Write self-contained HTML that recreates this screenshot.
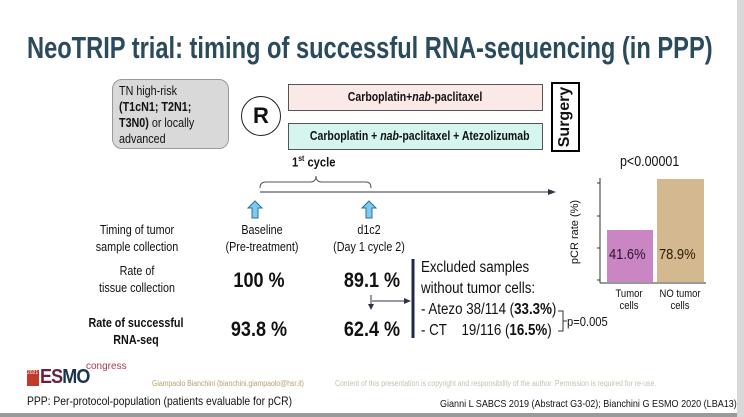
<!DOCTYPE html>
<html><head><meta charset="utf-8"><style>
*{margin:0;padding:0;box-sizing:border-box}
body{width:744px;height:417px;background:#fff;position:relative;overflow:hidden;font-family:"Liberation Sans",sans-serif;color:#111}
.a{position:absolute;white-space:nowrap}
.n{transform:scaleX(.86);transform-origin:left top}
.c{transform:translateX(-50%) scaleX(.86);text-align:center}
.bx span{display:inline-block;transform:scaleX(.84)}
</style></head><body>
<div class="a" style="left:27px;top:30px;font-size:31px;font-weight:bold;color:#2a4a5e;transform:scaleX(.763);transform-origin:left top">NeoTRIP trial: timing of successful RNA-sequencing (in PPP)</div>

<div class="a" style="left:112px;top:79px;width:117px;height:70px;background:#d9d9d9;border:1px solid #999;border-radius:10px"></div>
<div class="a n" style="left:119px;top:83px;font-size:12.5px;line-height:16px">TN high-risk<br><b>(T1cN1; T2N1;<br>T3N0)</b> or locally<br>advanced</div>
<div class="a" style="left:241px;top:96px;width:40px;height:40px;border:1.5px solid #222;border-radius:50%;font-size:22px;font-weight:bold;text-align:center;line-height:37px">R</div>
<div class="a bx" style="left:288px;top:84px;width:255px;height:27px;background:#fbe9e7;border:1px solid #555;font-size:12.5px;font-weight:bold;text-align:center;line-height:25px"><span>Carboplatin+<i>nab</i>-paclitaxel</span></div>
<div class="a bx" style="left:288px;top:123px;width:255px;height:27px;background:#d5f5ef;border:1px solid #555;font-size:12.5px;font-weight:bold;text-align:center;line-height:25px"><span>Carboplatin + <i>nab</i>-paclitaxel + Atezolizumab</span></div>
<div class="a" style="left:551px;top:82px;width:29px;height:70px;border:2px solid #000"></div>
<div class="a" style="left:565px;top:117px;font-size:16px;font-weight:bold;transform:translate(-50%,-50%) rotate(-90deg)">Surgery</div>

<div class="a n" style="left:292px;top:154px;font-size:13px;font-weight:bold">1<sup style="font-size:8px">st</sup> cycle</div>
<svg class="a" style="left:0;top:0" width="744" height="417">
<path d="M260,188 Q260,182 266,182 L310,182 Q316,182 316,176 Q316,182 322,182 L366,182 Q371,182 371,188" fill="none" stroke="#555" stroke-width="1"/>
<line x1="260" y1="192" x2="550" y2="192" stroke="#334" stroke-width="1"/>
<polygon points="556,192 548,189 548,195" fill="#334"/>
<polygon points="255,201 262,208 258,208 258,218 252,218 252,208 248,208" fill="#7fc8ef" stroke="#2c6f9a" stroke-width="1"/>
<polygon points="369,201 376,208 372,208 372,218 366,218 366,208 362,208" fill="#7fc8ef" stroke="#2c6f9a" stroke-width="1"/>
<line x1="413" y1="259" x2="413" y2="338" stroke="#1f2a4a" stroke-width="3"/>
<line x1="371" y1="295" x2="371" y2="305" stroke="#334" stroke-width="1"/>
<polygon points="371,310 368,304 374,304" fill="#334"/>
<line x1="372" y1="301" x2="405" y2="301" stroke="#334" stroke-width="1"/>
<polygon points="411,301 404,298 404,304" fill="#334"/>
<path d="M558,311 L563,311 L563,331 L558,331 M563,321 L567,321" fill="none" stroke="#333" stroke-width="1"/>
<line x1="600" y1="178" x2="600" y2="283" stroke="#333" stroke-width="1"/>
<line x1="600" y1="283" x2="706" y2="283" stroke="#333" stroke-width="1"/>
<rect x="607" y="230" width="46" height="52" fill="#c986c3"/>
<rect x="657" y="179" width="47" height="103" fill="#d4b890"/>
<g stroke="#333"><line x1="597" y1="280" x2="600" y2="280"/><line x1="597" y1="248" x2="600" y2="248"/><line x1="597" y1="216" x2="600" y2="216"/><line x1="597" y1="183" x2="600" y2="183"/></g>
</svg>
<div class="a c" style="left:137px;top:222px;font-size:12.5px;line-height:17px">Timing of tumor<br>sample collection</div>
<div class="a c" style="left:262px;top:222px;font-size:12.5px;line-height:17px">Baseline<br>(Pre-treatment)</div>
<div class="a c" style="left:369px;top:222px;font-size:12.5px;line-height:17px">d1c2<br>(Day 1 cycle 2)</div>
<div class="a c" style="left:137px;top:263px;font-size:12.5px;line-height:17px">Rate of<br>tissue collection</div>
<div class="a c" style="left:136px;top:315px;font-size:12.5px;line-height:17px;font-weight:bold">Rate of successful<br>RNA-seq</div>
<div class="a c" style="left:259px;top:269px;font-size:21px;font-weight:bold">100 %</div>
<div class="a c" style="left:372px;top:269px;font-size:21px;font-weight:bold">89.1 %</div>
<div class="a c" style="left:259px;top:318px;font-size:21px;font-weight:bold">93.8 %</div>
<div class="a c" style="left:372px;top:318px;font-size:21px;font-weight:bold">62.4 %</div>
<div class="a n" style="left:421px;top:257px;font-size:15.5px;line-height:21px">Excluded samples<br>without tumor cells:<br>- Atezo 38/114 (<b>33.3%</b>)<br>- CT &nbsp;&nbsp;&nbsp;19/116 (<b>16.5%</b>)</div>
<div class="a n" style="left:567px;top:314px;font-size:13px">p=0.005</div>

<div class="a n" style="left:620px;top:154px;font-size:14.5px">p&lt;0.00001</div>
<div class="a" style="left:575px;top:232px;font-size:11px;transform:translate(-50%,-50%) rotate(-90deg);white-space:nowrap">pCR rate (%)</div>
<div class="a n" style="left:609px;top:246px;font-size:15px;color:#2a1030">41.6%</div>
<div class="a n" style="left:659px;top:246px;font-size:15px;color:#2a1a00">78.9%</div>
<div class="a c" style="left:629px;top:288px;font-size:11px;line-height:12px">Tumor<br>cells</div>
<div class="a c" style="left:680px;top:288px;font-size:11px;line-height:12px">NO tumor<br>cells</div>

<div class="a" style="left:27px;top:370px;width:12px;height:16px;background:#c0392b;color:#fff;font-size:5px">2021</div>
<div class="a" style="left:40px;top:366px;font-size:20px;font-weight:bold;color:#1a3550;transform:scaleX(.9);transform-origin:left top;letter-spacing:-1px"><span style="color:#6b1f3a">ES</span>MO</div>
<div class="a" style="left:86px;top:361px;font-size:10px;color:#b03a50">congress</div>
<div class="a n" style="left:152px;top:379px;font-size:8px;color:#b9a070">Giampaolo Bianchini (bianchini.giampaolo@hsr.it)</div>
<div class="a n" style="left:335px;top:379px;font-size:8px;color:#c8c0b0">Content of this presentation is copyright and responsibility of the author. Permission is required for re-use.</div>
<div class="a n" style="left:27px;top:394px;font-size:12px">PPP: Per-protocol-population (patients evaluable for pCR)</div>
<div class="a n" style="left:440px;top:398px;font-size:10.5px">Gianni L SABCS 2019 (Abstract G3-02); Bianchini G ESMO 2020 (LBA13)</div>
<div class="a" style="left:0;top:413px;width:744px;height:4px;background:#9a9a9a"></div>
<div class="a" style="left:737px;top:0;width:7px;height:417px;background:#d8d8d8"></div>
</body></html>
